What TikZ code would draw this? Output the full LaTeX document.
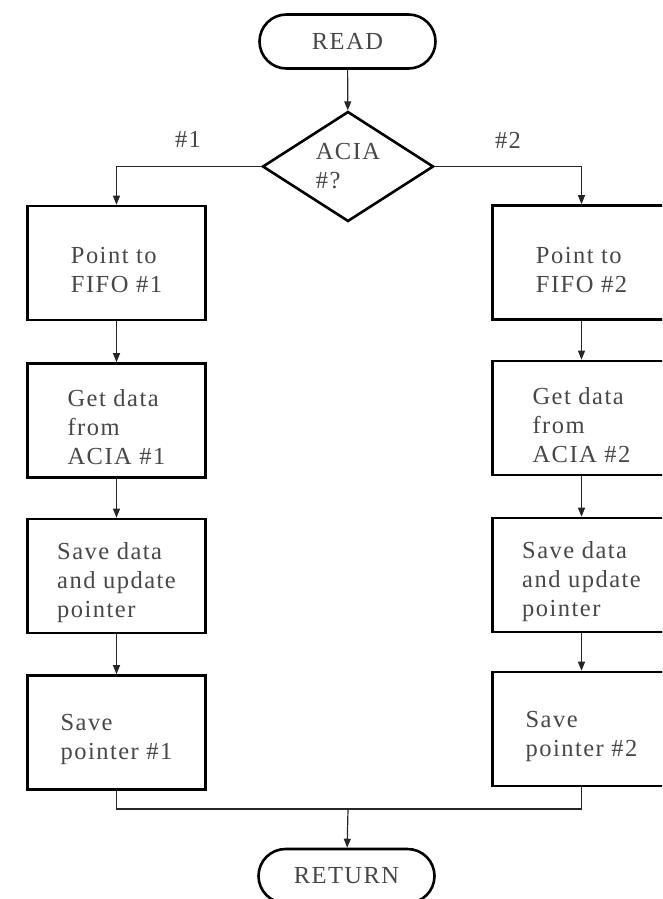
\documentclass[tikz,border=0pt]{standalone}
\usepackage{fontspec}
\setmainfont{Liberation Serif}[LetterSpace=6]
\usetikzlibrary{arrows.meta,shapes.geometric}
% extra room above the first line of a box text
\newcommand\topgap{\rule{0pt}{31pt}}

\begin{document}
\begin{tikzpicture}[x=1pt,y=-1pt,
  every node/.style={text=black!72, font=\fontsize{24.5}{29}\selectfont},
  procbox/.style={draw=black, line width=2.6pt, minimum width=178pt,
    minimum height=114pt, align=left, inner sep=0pt},
  term/.style={draw=black, line width=2.6pt, rounded corners=27pt,
    minimum width=176pt, minimum height=54pt, inner sep=0pt},
  decide/.style={diamond, draw=black, line width=2.6pt, minimum width=171pt,
    minimum height=110pt, aspect=1.54, align=left, inner sep=0pt},
  link/.style={line width=1.2pt, draw=black!85},
  conn/.style={link, -{Triangle[length=9pt,width=7pt]}},
  tag/.style={inner sep=0pt}
]
\useasboundingbox (0,0) rectangle (662,899);
\clip (0,0) rectangle (662,899);

% start, decision and end
\node[term] (rd) at (347.5,41.5) {READ};
\node[decide] (dec) at (348,166.5) {ACIA\\\#?};
\node[term] (ret) at (346.5,876) {RETURN};

% branch labels
\node[tag] (t1) at (188,139) {\#1};
\node[tag] (t2) at (508,140) {\#2};

% left branch
\node[procbox] (l1) at (116.5,263)   {\topgap Point to\\FIFO \#1};
\node[procbox] (l2) at (116.5,420.5) {\topgap Get data\\from\\ACIA \#1};
\node[procbox] (l3) at (116.5,576)   {\topgap Save data\\and update\\pointer};
\node[procbox] (l4) at (116.5,732.5) {\topgap Save\\pointer \#1};

% right branch
\node[procbox] (r1) at (581.5,262.5) {\topgap Point to\\FIFO \#2};
\node[procbox] (r2) at (581.5,418)   {\topgap Get data\\from\\ACIA \#2};
\node[procbox] (r3) at (581.5,575)   {\topgap Save data\\and update\\pointer};
\node[procbox] (r4) at (581.5,729)   {\topgap Save\\pointer \#2};

\coordinate (join) at (348,809);

% connectors
\draw[conn] (rd) -- (dec);
\draw[conn] (dec.west) -| (l1.north);
\draw[conn] (dec.east) -| (r1.north);
\draw[conn] (l1) -- (l2);
\draw[conn] (l2) -- (l3);
\draw[conn] (l3) -- (l4);
\draw[conn] (r1) -- (r2);
\draw[conn] (r2) -- (r3);
\draw[conn] (r3) -- (r4);
\draw[link] (l4.south) |- (join) -| (r4.south);
\draw[conn] (join) -- (ret);
\end{tikzpicture}
\end{document}
